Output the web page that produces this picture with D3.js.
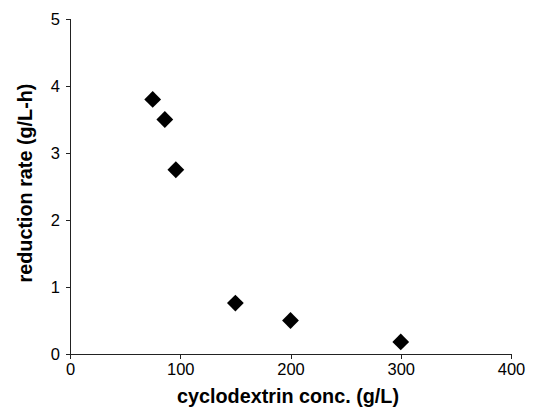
<!DOCTYPE html>
<html>
<head>
	<meta charset="UTF-8">
	<style>
		body { margin: 0; background: #fff; }
		text { font-family: "Liberation Sans", Arial, sans-serif; fill: #000; }
		.tick text { font-size: 16.5px; }
		.axis path, .axis line { stroke: #222; shape-rendering: crispEdges; }
		.title { font-size: 19.8px; font-weight: bold; }
	</style>
</head>
<body>
<script src="https://d3js.org/d3.v7.min.js"></script>
<script>

var concentration = [75, 86, 96, 150, 200, 300];
var rate = [3.8, 3.5, 2.75, 0.76, 0.5, 0.18];
var xTicks = [0, 100, 200, 300, 400];
var yTicks = [0, 1, 2, 3, 4, 5];

var width = 544;
var height = 410;
var margin = {top: 19, right: 33, bottom: 56, left: 70};

var svg = d3.select("body").append("svg")
	.attr("width", width)
	.attr("height", height);

var x = d3.scaleLinear()
	.domain([0, 400])
	.range([margin.left, width - margin.right]);

var y = d3.scaleLinear()
	.domain([0, 5])
	.range([height - margin.bottom, margin.top]);

svg.append("g")
	.attr("class", "axis")
	.attr("transform", "translate(0," + y(0) + ")")
	.call(d3.axisBottom(x).tickValues(xTicks).tickSize(5).tickPadding(4).tickFormat(d3.format("d")));

svg.append("g")
	.attr("class", "axis")
	.attr("transform", "translate(" + x(0) + ",0)")
	.call(d3.axisLeft(y).tickValues(yTicks).tickSize(4).tickPadding(6).tickFormat(d3.format("d")));

var diamond = d3.symbol().type(d3.symbolDiamond2).size(180);

svg.append("g").selectAll("path")
	.data(concentration)
	.enter().append("path")
	.attr("d", diamond)
	.attr("transform", function(d, i){ return "translate(" + x(d) + "," + y(rate[i]) + ")"; })
	.attr("fill", "#000");

svg.append("text")
	.attr("class", "title")
	.attr("text-anchor", "middle")
	.attr("x", 288)
	.attr("y", 403)
	.text("cyclodextrin conc. (g/L)");

svg.append("text")
	.attr("class", "title")
	.attr("text-anchor", "middle")
	.attr("transform", "translate(32,183) rotate(-90)")
	.text("reduction rate (g/L-h)");

</script>
</body>
</html>
